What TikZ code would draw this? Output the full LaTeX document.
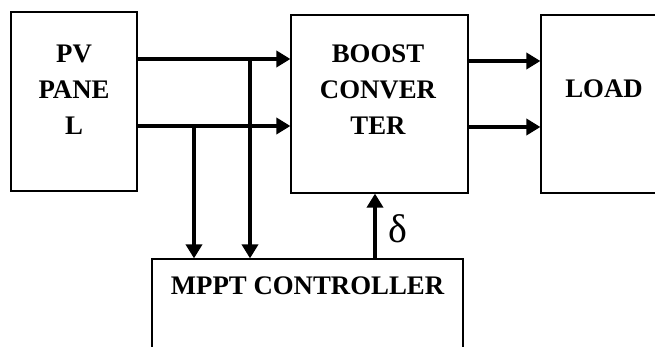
\documentclass[tikz,border=0pt]{standalone}
\usepackage{fontspec}
\setmainfont{Liberation Serif}
\usetikzlibrary{arrows.meta}
\begin{document}
\begin{tikzpicture}[x=1pt,y=-1pt,
  box/.style={draw, line width=1.2pt, inner sep=0pt},
  lbl/.style={font=\fontsize{26.8}{36}\selectfont\bfseries, align=center, inner sep=0pt},
  arr/.style={line width=3.8pt, -{Triangle[length=14pt,width=16pt]}},
  wire/.style={line width=3.8pt}]
\useasboundingbox (0,0) rectangle (655,347);
\clip (0,0) rectangle (655,347);
% boxes
\node[box, minimum width=126pt, minimum height=179pt] (pv) at (74,101.5) {};
\node[box, minimum width=177pt, minimum height=178pt] (boost) at (379.5,104) {};
\node[box, minimum width=126pt, minimum height=178pt] (load) at (604,104) {};
\node[box, minimum width=311pt, minimum height=111pt] (mppt) at (307.5,314.5) {};
% labels
\node[lbl] (pvt) at (74,90) {PV\\PANE\\L};
\node[lbl] (boostt) at (378,90) {BOOST\\CONVER\\TER};
\node[lbl] (loadt) at (604,89) {LOAD};
\node[lbl] (mpptt) at (307.5,286) {MPPT CONTROLLER};
% junction coordinates
\coordinate (j1) at (250,59);
\coordinate (j2) at (194,126);
\coordinate (o1) at (500,61);
\coordinate (o2) at (500,127);
\coordinate (d) at (375,230);
% connectors
\draw[arr] (pv.east |- j1) -- (boost.west |- j1);
\draw[arr] (pv.east |- j2) -- (boost.west |- j2);
\draw[arr] (j1) -- (mppt.north -| j1);
\draw[arr] (j2) -- (mppt.north -| j2);
\draw[arr] (boost.east |- o1) -- (load.west |- o1);
\draw[arr] (boost.east |- o2) -- (load.west |- o2);
\draw[arr] (mppt.north -| d) -- (boost.south -| d);
\node[font=\fontsize{40}{44}\selectfont, inner sep=0pt] (delta) at (398,229) {δ};
\end{tikzpicture}
\end{document}
